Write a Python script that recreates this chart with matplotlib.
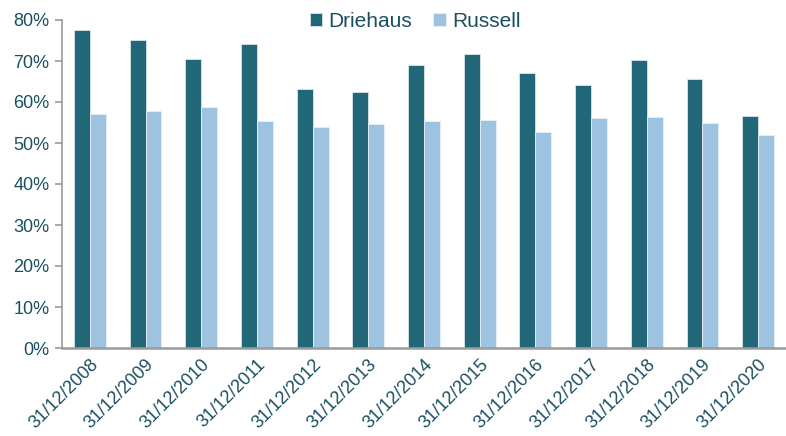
import numpy as np
import matplotlib.pyplot as plt

plt.rcParams['font.family'] = ['Liberation Sans', 'DejaVu Sans']

dates = ['31/12/2008', '31/12/2009', '31/12/2010', '31/12/2011', '31/12/2012',
         '31/12/2013', '31/12/2014', '31/12/2015', '31/12/2016', '31/12/2017',
         '31/12/2018', '31/12/2019', '31/12/2020']
driehaus = [77.5, 75.2, 70.5, 74.2, 63.1, 62.4, 69.0, 71.6, 67.1, 64.1, 70.2, 65.5, 56.7]
russell = [57.0, 57.9, 58.8, 55.4, 53.9, 54.6, 55.3, 55.5, 52.7, 56.0, 56.3, 54.8, 52.0]

dark = '#216778'
light = '#9dc3e0'
text_col = '#1b4f5f'

fig = plt.figure(figsize=(7.86, 4.36), dpi=100)
ax = fig.add_axes([62/786, 1 - 348/436, 1 - 62/786, 328/436])

x = np.arange(len(dates))
w = 0.286
ax.bar(x - w/2, driehaus, w, color=dark, edgecolor='#d8e6ec', linewidth=0.6, label='Driehaus')
ax.bar(x + w/2, russell, w, color=light, edgecolor='#e6f0f7', linewidth=0.6, label='Russell')

ax.set_xlim(-0.5, len(dates) - 0.5)
ax.set_ylim(0, 80)
ax.set_yticks(range(0, 81, 10))
ax.set_yticklabels([f'{v}%' for v in range(0, 81, 10)], fontsize=13, color=text_col)
ax.set_xticks(x)
ax.set_xticklabels(dates, rotation=45, ha='right', rotation_mode='anchor',
                   fontsize=13, color=text_col)

for s in ['top', 'right']:
    ax.spines[s].set_visible(False)
ax.spines['left'].set_color('#9a9a9a')
ax.spines['left'].set_linewidth(1.2)
ax.spines['bottom'].set_color('#9a9a9a')
ax.spines['bottom'].set_linewidth(1.8)
ax.tick_params(axis='y', length=5, color='#9a9a9a', width=1.2, pad=4)
ax.tick_params(axis='x', length=0, pad=6)

fig.legend(loc='upper center', bbox_to_anchor=(0.528, 1.015), ncol=2, frameon=False,
           fontsize=15, handlelength=0.6, handleheight=0.6, handletextpad=0.3,
           columnspacing=1.0, labelcolor=text_col)

plt.savefig('out.png', dpi=100)
